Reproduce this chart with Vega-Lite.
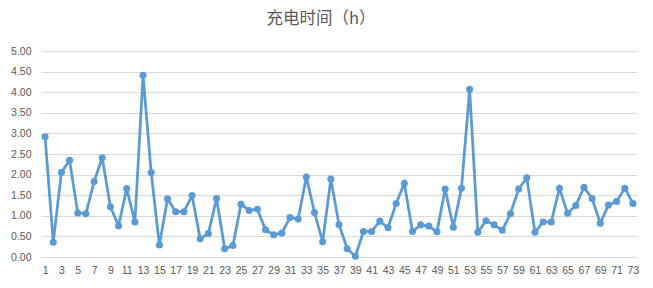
{
  "$schema": "https://vega.github.io/schema/vega-lite/v6.json",
  "autosize": "none",
  "width": 596,
  "height": 206,
  "padding": {"left": 41, "top": 51, "right": 16, "bottom": 31},
  "background": "white",
  "title": {
    "text": "充电时间（h）",
    "font": "Noto Sans CJK SC",
    "fontSize": 16.5,
    "fontWeight": "normal",
    "color": "#595959",
    "dx": -18,
    "offset": 19
  },
  "data": {
    "values": [
      {"n": 1, "v": 2.92}, {"n": 2, "v": 0.36}, {"n": 3, "v": 2.05}, {"n": 4, "v": 2.35},
      {"n": 5, "v": 1.07}, {"n": 6, "v": 1.05}, {"n": 7, "v": 1.83}, {"n": 8, "v": 2.41},
      {"n": 9, "v": 1.22}, {"n": 10, "v": 0.76}, {"n": 11, "v": 1.66}, {"n": 12, "v": 0.85},
      {"n": 13, "v": 4.41}, {"n": 14, "v": 2.05}, {"n": 15, "v": 0.29}, {"n": 16, "v": 1.41},
      {"n": 17, "v": 1.10}, {"n": 18, "v": 1.10}, {"n": 19, "v": 1.49}, {"n": 20, "v": 0.44},
      {"n": 21, "v": 0.57}, {"n": 22, "v": 1.42}, {"n": 23, "v": 0.20}, {"n": 24, "v": 0.28},
      {"n": 25, "v": 1.28}, {"n": 26, "v": 1.13}, {"n": 27, "v": 1.16}, {"n": 28, "v": 0.66},
      {"n": 29, "v": 0.54}, {"n": 30, "v": 0.58}, {"n": 31, "v": 0.96}, {"n": 32, "v": 0.92},
      {"n": 33, "v": 1.94}, {"n": 34, "v": 1.08}, {"n": 35, "v": 0.37}, {"n": 36, "v": 1.89},
      {"n": 37, "v": 0.79}, {"n": 38, "v": 0.20}, {"n": 39, "v": 0.02}, {"n": 40, "v": 0.62},
      {"n": 41, "v": 0.62}, {"n": 42, "v": 0.87}, {"n": 43, "v": 0.71}, {"n": 44, "v": 1.30},
      {"n": 45, "v": 1.79}, {"n": 46, "v": 0.62}, {"n": 47, "v": 0.78}, {"n": 48, "v": 0.75},
      {"n": 49, "v": 0.61}, {"n": 50, "v": 1.65}, {"n": 51, "v": 0.72}, {"n": 52, "v": 1.67},
      {"n": 53, "v": 4.07}, {"n": 54, "v": 0.60}, {"n": 55, "v": 0.88}, {"n": 56, "v": 0.78},
      {"n": 57, "v": 0.65}, {"n": 58, "v": 1.05}, {"n": 59, "v": 1.65}, {"n": 60, "v": 1.92},
      {"n": 61, "v": 0.60}, {"n": 62, "v": 0.85}, {"n": 63, "v": 0.85}, {"n": 64, "v": 1.67},
      {"n": 65, "v": 1.06}, {"n": 66, "v": 1.25}, {"n": 67, "v": 1.69}, {"n": 68, "v": 1.42},
      {"n": 69, "v": 0.82}, {"n": 70, "v": 1.26}, {"n": 71, "v": 1.35}, {"n": 72, "v": 1.67},
      {"n": 73, "v": 1.30}
    ]
  },
  "mark": {
    "type": "line",
    "color": "#5B9BD5",
    "strokeWidth": 2.75,
    "point": {"filled": true, "size": 50, "color": "#5B9BD5"}
  },
  "encoding": {
    "x": {
      "field": "n",
      "type": "ordinal",
      "sort": null,
      "scale": {"padding": 0.5},
      "axis": {
        "title": null,
        "labelAngle": 0,
        "values": [1,3,5,7,9,11,13,15,17,19,21,23,25,27,29,31,33,35,37,39,41,43,45,47,49,51,53,55,57,59,61,63,65,67,69,71,73],
        "ticks": false,
        "domain": true,
        "domainColor": "#d9d9d9",
        "domainWidth": 1,
        "labelFont": "Liberation Sans",
        "labelFontSize": 10.5,
        "labelColor": "#595959",
        "labelPadding": 8,
        "labelOverlap": false,
        "grid": false
      }
    },
    "y": {
      "field": "v",
      "type": "quantitative",
      "scale": {"domain": [0, 5], "nice": false},
      "axis": {
        "title": null,
        "values": [0, 0.5, 1, 1.5, 2, 2.5, 3, 3.5, 4, 4.5, 5],
        "format": ".2f",
        "ticks": false,
        "domain": false,
        "grid": true,
        "gridColor": "#d9d9d9",
        "gridWidth": 1,
        "labelFont": "Liberation Sans",
        "labelFontSize": 10.5,
        "labelColor": "#595959",
        "labelPadding": 10
      }
    }
  },
  "config": {"view": {"stroke": null}}
}
